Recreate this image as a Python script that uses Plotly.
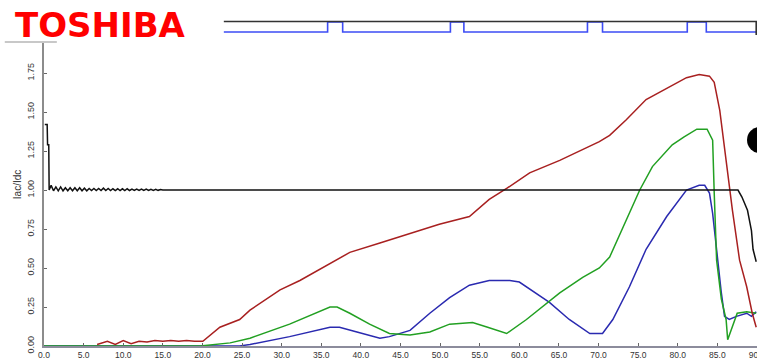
import plotly.graph_objects as go

# ---- data ----
red_x = [6.7, 8.0, 9.0, 10.0, 11.0, 12.0, 13.0, 14.0, 15.0, 16.0, 17.0, 18.0, 19.0, 20.05,
         22.2, 24.7, 26.0, 29.8, 32.3, 36.1, 38.6, 42.4, 46.2, 49.9, 53.7, 56.2, 58.4,
         61.3, 65.1, 68.0, 70.1, 71.4, 73.5, 76.0, 78.6, 81.1, 82.7, 84.0, 84.6, 85.3,
         86.1, 86.9, 87.8, 88.7, 89.4, 89.9]
red_y = [0.01, 0.03, 0.01, 0.035, 0.015, 0.03, 0.025, 0.035, 0.03, 0.035, 0.03, 0.035, 0.03, 0.03,
         0.12, 0.17, 0.23, 0.36, 0.42, 0.53, 0.60, 0.66, 0.72, 0.78, 0.83, 0.94, 1.01,
         1.11, 1.19, 1.26, 1.31, 1.35, 1.45, 1.58, 1.65, 1.72, 1.74, 1.73, 1.69, 1.51,
         1.19, 0.87, 0.55, 0.38, 0.21, 0.12]

green_x = [0.0, 19.7, 23.5, 26.0, 31.0, 36.1, 37.0, 38.6, 41.1, 43.6, 46.2, 48.7, 51.2,
           53.7, 54.1, 56.0, 58.4, 60.9, 65.1, 68.0, 70.1, 71.4, 73.5, 75.2, 76.8, 79.3,
           80.8, 82.4, 83.7, 84.4, 84.6, 84.9, 85.5, 86.1, 86.3, 86.9, 87.5, 88.7, 89.9]
green_y = [0.0, 0.0, 0.02, 0.05, 0.14, 0.25, 0.25, 0.21, 0.14, 0.08, 0.07, 0.09, 0.14,
           0.15, 0.15, 0.12, 0.08, 0.17, 0.34, 0.44, 0.50, 0.57, 0.81, 1.00, 1.15, 1.29,
           1.34, 1.39, 1.39, 1.32, 0.98, 0.55, 0.30, 0.17, 0.04, 0.12, 0.21, 0.22, 0.21]

blue_x = [0.0, 18.4, 24.7, 26.0, 31.0, 36.1, 37.3, 39.5, 42.4, 43.6, 46.2, 48.7, 51.2,
          53.7, 56.2, 58.8, 60.0, 63.8, 66.3, 68.9, 70.5, 71.8, 73.9, 76.0, 78.6, 81.1,
          82.7, 83.4, 84.0, 84.4, 85.0, 85.5, 85.9, 86.5, 87.4, 88.7, 89.3, 89.9]
blue_y = [0.0, 0.0, 0.0, 0.01, 0.06, 0.12, 0.12, 0.09, 0.05, 0.06, 0.10, 0.21, 0.31,
          0.39, 0.42, 0.42, 0.41, 0.28, 0.17, 0.08, 0.08, 0.17, 0.38, 0.62, 0.83, 1.00,
          1.03, 1.03, 0.98, 0.85, 0.55, 0.34, 0.19, 0.17, 0.19, 0.21, 0.19, 0.22]

black_x = [0.1, 0.4, 0.45, 0.6, 0.65, 0.9, 1.2, 1.5, 1.8, 2.1, 2.4, 2.7, 3.0, 3.3, 3.6,
           3.9, 4.2, 4.5, 4.8, 5.1, 5.4, 5.7, 6.0, 6.3, 6.6, 6.9, 7.2, 7.5, 7.8, 8.1,
           8.4, 8.7, 9.0, 9.3, 9.6, 9.9, 10.2, 10.5, 10.8, 11.1, 11.4, 11.7, 12.0, 12.3,
           12.6, 12.9, 13.2, 13.5, 13.8, 14.1, 14.4, 14.7, 15.0, 87.6, 88.1, 88.8, 89.3,
           89.5, 89.9]
black_y = [1.42, 1.42, 1.29, 1.29, 1.00, 1.03, 0.995, 1.02, 0.995, 1.02, 0.995, 1.015, 0.995, 1.015,
           0.995, 1.015, 0.995, 1.015, 0.995, 1.012, 0.995, 1.01, 0.997, 1.01, 0.997, 1.01, 0.997,
           1.012, 0.997, 1.01, 0.997, 1.008, 0.997, 1.008, 0.997, 1.008, 0.997, 1.008, 0.997,
           1.006, 0.997, 1.006, 0.997, 1.006, 0.997, 1.006, 0.997, 1.005, 0.998, 1.005, 0.998,
           1.003, 1.0, 1.0, 0.955, 0.87, 0.74, 0.62, 0.54]

pulse_x = [22.7, 35.8, 37.7, 51.3, 53.0, 68.6, 70.5, 81.2, 83.6, 90.0]
pulse_y = [0, 1, 0, 1, 0, 1, 0, 1, 0, 0]
top_x = [22.7, 89.9, 89.9]
top_y = [1.05, 1.05, -0.3]

x_ticks = [0, 5, 10, 15, 20, 25, 30, 35, 40, 45, 50, 55, 60, 65, 70, 75, 80, 85, 90]
y_ticks = [0, 0.25, 0.5, 0.75, 1.0, 1.25, 1.5, 1.75]

fig = go.Figure()
fig.add_trace(go.Scatter(x=blue_x, y=blue_y, mode="lines", line=dict(color="#2a2ab0", width=1.5)))
fig.add_trace(go.Scatter(x=green_x, y=green_y, mode="lines", line=dict(color="#22a022", width=1.5)))
fig.add_trace(go.Scatter(x=red_x, y=red_y, mode="lines", line=dict(color="#a82020", width=1.5)))
fig.add_trace(go.Scatter(x=black_x, y=black_y, mode="lines", line=dict(color="#111111", width=1.5)))
fig.add_trace(go.Scatter(x=pulse_x, y=pulse_y, mode="lines", line_shape="hv",
                         line=dict(color="#3d4cf5", width=1.6), xaxis="x", yaxis="y2"))
fig.add_trace(go.Scatter(x=top_x, y=top_y, mode="lines", line=dict(color="#333333", width=1.6),
                         xaxis="x", yaxis="y2"))

fig.update_layout(
    width=757, height=362,
    margin=dict(l=44, r=0, t=10, b=16),
    paper_bgcolor="white", plot_bgcolor="white",
    showlegend=False,
    font=dict(family="Liberation Sans, Arial, sans-serif", size=9, color="#333333"),
    xaxis=dict(range=[0, 90], tickvals=x_ticks, tickformat=".1f", showgrid=False, zeroline=False,
               showline=True, linecolor="#8c8c9c", linewidth=2, ticks="inside", ticklen=3,
               tickcolor="#666666", ticklabeloverflow="allow", automargin=False,
               tickfont=dict(size=8.5, color="#333333"), anchor="y"),
    yaxis=dict(range=[0, 1.949], domain=[0, 0.9048], tickvals=y_ticks, tickformat=".2f",
               tickangle=-90, showgrid=False, zeroline=False, showline=True, linecolor="#8c8c8c",
               linewidth=2, mirror=True, ticks="inside", ticklen=3, tickcolor="#666666",
               ticklabelstandoff=4, automargin=False, tickfont=dict(size=9, color="#333333")),
    yaxis2=dict(range=[-0.4, 1.4], domain=[0.9226, 0.9762], visible=False, anchor="x"),
    annotations=[
        dict(text="<b>TOSHIBA</b>", xref="paper", yref="paper", x=-0.0435, y=1.0208,
             xanchor="left", yanchor="top", showarrow=False,
             font=dict(family="DejaVu Sans, sans-serif", size=34, color="#ff0000")),
        dict(text="Iac/Idc", xref="paper", yref="paper", x=-0.0477, y=0.48, textangle=-90,
             showarrow=False, font=dict(size=10, color="#333333")),
    ],
    shapes=[
        dict(type="line", xref="paper", yref="paper", x0=-0.055, x1=0.018, y0=0.9048, y1=0.9048,
             line=dict(color="#c8c8c8", width=2)),
        dict(type="circle", xref="paper", yref="paper", x0=0.986, x1=1.022, y0=0.574, y1=0.652,
             fillcolor="black", line=dict(color="black", width=0)),
    ],
)

fig.write_html("out.html")
